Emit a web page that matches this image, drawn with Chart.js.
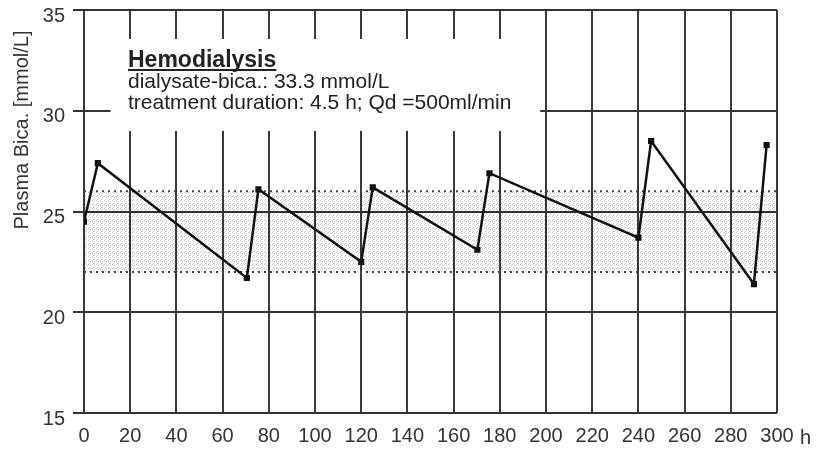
<!DOCTYPE html>
<html>
<head>
<meta charset="utf-8">
<script src="https://cdn.jsdelivr.net/npm/chart.js@4.4.0/dist/chart.umd.min.js"></script>
<style>
  html, body { margin: 0; padding: 0; background: #fff; }
  #wrap { width: 819px; height: 449px; }
</style>
</head>
<body>
<div id="wrap"><canvas id="bicaChart"></canvas></div>
<script>
// ************** Plasma bicarbonate over hemodialysis sessions *******************
const hours = [0, 6, 70.5, 75.5, 120, 125, 170.3, 175.5, 240, 245.5, 290, 295.5];
const plasmaBica = [24.5, 27.4, 21.7, 26.1, 22.5, 26.2, 23.1, 26.9, 23.7, 28.5, 21.4, 28.3];
const normalRange = [22, 26]; // shaded target band
const xTicks = [0, 20, 40, 60, 80, 100, 120, 140, 160, 180, 200, 220, 240, 260, 280, 300];
const yTicks = [15, 20, 25, 30, 35];

const titleText = "Hemodialysis";
const infoLines = ["dialysate-bica.: 33.3 mmol/L", "treatment duration: 4.5 h; Qd =500ml/min"];
const font = "'Liberation Sans', Arial, sans-serif";

// stipple for the band
const pat = document.createElement('canvas');
pat.width = 4; pat.height = 4;
const pc = pat.getContext('2d');
pc.fillStyle = 'rgba(0,0,0,0.22)';
pc.fillRect(0, 0, 1, 1);
pc.fillRect(2, 1, 1, 1);
pc.fillRect(1, 3, 1, 1);
const ctx = document.getElementById("bicaChart").getContext('2d');
const stipple = ctx.createPattern(pat, 'repeat');

const toPoints = (xs, ys) => xs.map((x, i) => ({ x: x, y: ys[i] }));

// white box behind the text, covers the grid there
const textBox = {
    id: 'textBox',
    beforeDatasetsDraw(chart) {
        const x = chart.scales.x, c = chart.ctx;
        c.save();
        c.fillStyle = '#fff';
        c.fillRect(x.getPixelForValue(11.5), 39, x.getPixelForValue(197.5) - x.getPixelForValue(11.5), 92);
        c.restore();
    },
    afterDraw(chart) {
        const c = chart.ctx;
        c.save();
        c.fillStyle = '#222';
        c.textBaseline = 'alphabetic';
        c.font = "bold 23px " + font;
        c.fillText(titleText, 128, 67);
        const w = c.measureText(titleText).width;
        c.fillRect(128, 69, w, 2);
        c.font = "21px " + font;
        c.fillText(infoLines[0], 128, 88);
        c.fillText(infoLines[1], 128, 109);

        c.fillStyle = '#333';
        c.font = "20px " + font;
        c.textBaseline = 'middle';
        c.fillText("h", 800, 438);

        c.translate(22, 130);
        c.rotate(-Math.PI / 2);
        c.textAlign = 'center';
        c.fillText("Plasma Bica. [mmol/L]", 0, 0);
        c.restore();
    }
};

new Chart(ctx, {
    type: 'line',
    data: {
        datasets: [{
            label: 'Plasma Bica.',
            data: toPoints(hours, plasmaBica),
            borderColor: '#111',
            backgroundColor: '#111',
            borderWidth: 2.5,
            pointStyle: 'rect',
            pointRadius: 2.6,
            fill: false,
            tension: 0
        }, {
            label: 'upper',
            data: toPoints([0, 300], [normalRange[1], normalRange[1]]),
            borderColor: '#444',
            borderWidth: 2,
            borderDash: [2, 4],
            pointRadius: 0,
            fill: '+1',
            backgroundColor: stipple
        }, {
            label: 'lower',
            data: toPoints([0, 300], [normalRange[0], normalRange[0]]),
            borderColor: '#444',
            borderWidth: 2,
            borderDash: [2, 4],
            pointRadius: 0,
            fill: false
        }]
    },
    options: {
        responsive: true,
        maintainAspectRatio: false,
        animation: false,
        layout: { padding: { left: 0, right: 42, top: 10, bottom: 0 } },
        plugins: { legend: { display: false }, tooltip: { enabled: false } },
        scales: {
            x: {
                type: 'linear',
                min: 0,
                max: 300,
                afterBuildTicks: (s) => { s.ticks = xTicks.map(v => ({ value: v })); },
                afterFit: (s) => { s.height = 36; s.paddingLeft = 0; s.paddingRight = 0; },
                border: { display: false },
                grid: { color: '#3a3a3a', lineWidth: 2, drawTicks: false },
                ticks: { color: '#333', font: { family: font, size: 20 }, padding: 11, maxRotation: 0, autoSkip: false }
            },
            y: {
                min: 15,
                max: 35,
                afterBuildTicks: (s) => { s.ticks = yTicks.map(v => ({ value: v })); },
                afterFit: (s) => { s.width = 84; s.paddingTop = 0; s.paddingBottom = 0; },
                border: { display: false },
                grid: { color: '#333', lineWidth: 2, tickLength: 11 },
                ticks: { color: '#333', font: { family: font, size: 20 }, padding: 8, labelOffset: 6 }
            }
        }
    },
    plugins: [textBox]
});
</script>
</body>
</html>
